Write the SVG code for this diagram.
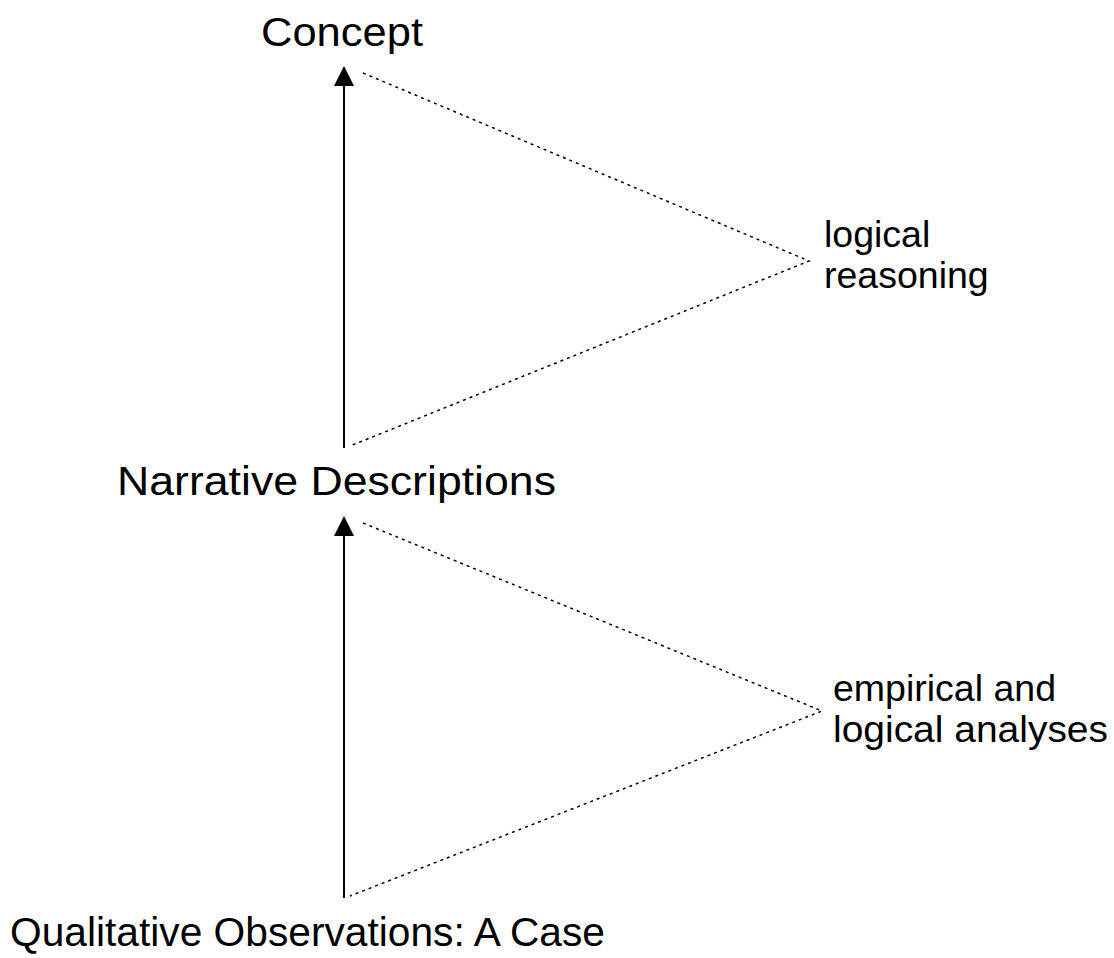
<svg xmlns="http://www.w3.org/2000/svg" width="1114" height="958" viewBox="0 0 1114 958">
<style>
.main{font-family:"Liberation Sans",Arial,sans-serif;font-size:40px;fill:#000}
.side{font-family:"Liberation Sans",Arial,sans-serif;font-size:37.5px;fill:#000}
.arrow{stroke:#000;stroke-width:2;fill:none}
.dot{stroke:#000;stroke-width:1.5;fill:none;stroke-dasharray:3 4}
</style>
<rect width="1114" height="958" fill="#fff"/>
<g id="connectors">
<line class="arrow" x1="344" y1="448" x2="344" y2="84"/>
<polygon points="344,66 334,86 354,86" fill="#000"/>
<line class="arrow" x1="344" y1="898" x2="344" y2="534"/>
<polygon points="344,516 334,536 354,536" fill="#000"/>
<polyline class="dot" points="363,73 809,261 350,446"/>
<polyline class="dot" points="363,523 822,711 350,896"/>
</g>
<g id="concept"><text class="main" x="261" y="46" textLength="162" lengthAdjust="spacingAndGlyphs">Concept</text></g>
<g id="narrative"><text class="main" x="117" y="495" textLength="439" lengthAdjust="spacingAndGlyphs">Narrative Descriptions</text></g>
<g id="qualitative"><text class="main" x="10" y="946" font-size="42" textLength="595" lengthAdjust="spacingAndGlyphs">Qualitative Observations: A Case</text></g>
<g id="logical-reasoning"><text class="side" x="824" y="247">logical</text><text class="side" x="824" y="288">reasoning</text></g>
<g id="empirical"><text class="side" x="833" y="701">empirical and</text><text class="side" x="833" y="742" textLength="275" lengthAdjust="spacingAndGlyphs">logical analyses</text></g>
</svg>
